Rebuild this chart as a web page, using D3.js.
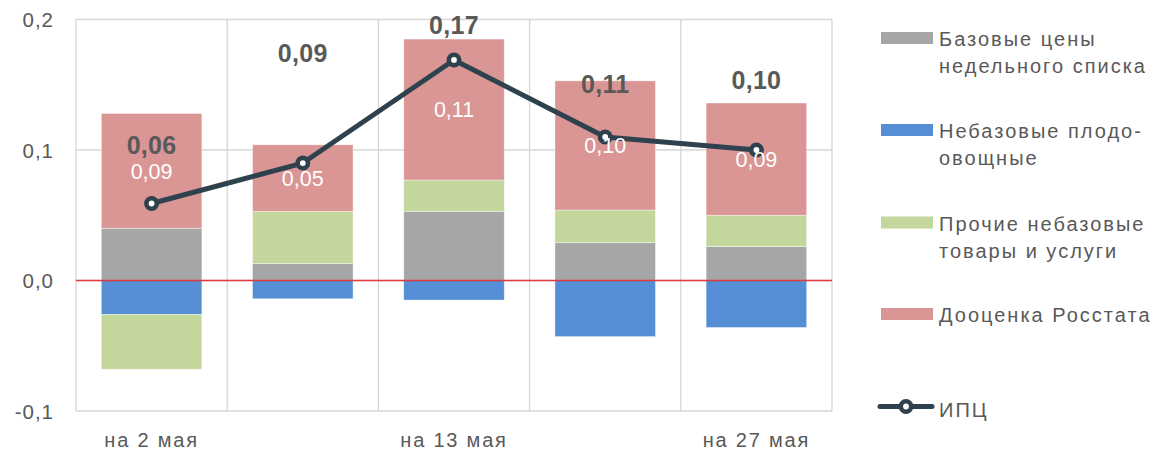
<!DOCTYPE html>
<html>
<head>
<meta charset="utf-8">
<script src="https://cdn.jsdelivr.net/npm/d3@7/dist/d3.min.js"></script>
<style>
  html, body { margin: 0; padding: 0; background: #fff; }
  svg { display: block; }
  text { font-family: "Liberation Sans", Arial, sans-serif; }
</style>
</head>
<body>
<svg id="chart" width="1155" height="451"></svg>
<script>
// ---- data ----
const categories = ["на 2 мая", "на 6 мая", "на 13 мая", "на 20 мая", "на 27 мая"];
const baseValues  = [0.040, 0.013, 0.053, 0.029, 0.026];   // Базовые цены недельного списка
const fruitValues = [-0.026, -0.014, -0.015, -0.043, -0.036]; // Небазовые плодоовощные
const otherValues = [-0.042, 0.040, 0.024, 0.025, 0.024];  // Прочие небазовые товары и услуги
const rosstatValues = [0.088, 0.051, 0.108, 0.099, 0.086]; // Дооценка Росстата
const cpiValues   = [0.059, 0.090, 0.169, 0.110, 0.100];   // ИПЦ
const yTicks = [-0.1, 0.0, 0.1, 0.2];
const seriesNames = ["Базовые цены\nнедельного списка", "Небазовые плодо-\nовощные",
                     "Прочие небазовые\nтовары и услуги", "Дооценка Росстата"];
const cpiName = "ИПЦ";

// ---- layout / style ----
const colors = ["#a6a6a6", "#558ed5", "#c3d69b", "#d99694"];
const lineColor = "#2e414d";
const textColor = "#595959";
const gridColor = "#d6d6d6";
const cpiLabelAt = [0.1036, 0.174, 0.196, 0.1504, 0.1535]; // label placement (value units)

const svg = d3.select("#chart");
const x = d3.scaleBand().domain(categories).range([76, 832]).paddingInner(0.335).paddingOuter(0.1675);
const y = d3.scaleLinear().domain([-0.1, 0.2]).range([411, 19.5]);
const fmt = v => d3.format(".2f")(v).replace(".", ",");
const fmt1 = v => d3.format(".1f")(v).replace(".", ",").replace("−", "-");

// gridlines horizontal
svg.append("g").selectAll("line").data(yTicks).join("line")
  .attr("x1", x.range()[0]).attr("x2", x.range()[1])
  .attr("y1", d => y(d)).attr("y2", d => y(d))
  .attr("stroke", gridColor).attr("stroke-width", 1.3);
// vertical category separators
const step = x.step();
const bounds = d3.range(categories.length + 1).map(i => x.range()[0] + i * step);
svg.append("g").selectAll("line").data(bounds).join("line")
  .attr("x1", d => d).attr("x2", d => d)
  .attr("y1", y(0.2)).attr("y2", y(-0.1))
  .attr("stroke", gridColor).attr("stroke-width", 1.3);

// y axis labels
const yAxis = d3.axisLeft(y).tickValues(yTicks).tickFormat(fmt1).tickSize(0).tickPadding(0);
const ya = svg.append("g").attr("transform", "translate(54,0)").call(yAxis);
ya.select(".domain").remove();
ya.selectAll("text").attr("fill", textColor).style("font-size", "20.5px")
  .style("letter-spacing", "1px").attr("dy", "0.35em");

// x axis labels
const xAxis = d3.axisBottom(x).tickSize(0).tickPadding(0)
  .tickFormat((d, i) => i % 2 === 0 ? d : "");
const xa = svg.append("g").attr("transform", "translate(0,432)").call(xAxis);
xa.select(".domain").remove();
xa.selectAll("text").attr("fill", textColor).style("font-size", "20px")
  .style("letter-spacing", "1.8px").attr("dy", "0.75em");

// stacked bars
const keys = ["base", "fruit", "other", "rosstat"];
const table = categories.map((c, i) => ({
  cat: c, base: baseValues[i], fruit: fruitValues[i], other: otherValues[i], rosstat: rosstatValues[i]
}));
const stacked = d3.stack().keys(keys).offset(d3.stackOffsetDiverging)(table);
svg.append("g").selectAll("g").data(stacked).join("g")
  .attr("fill", (d, i) => colors[i])
  .selectAll("rect").data(d => d).join("rect")
  .attr("x", d => x(d.data.cat))
  .attr("width", x.bandwidth())
  .attr("y", d => y(Math.max(d[0], d[1])))
  .attr("height", d => Math.abs(y(d[0]) - y(d[1])))
  .attr("stroke", "rgba(255,255,255,0.5)").attr("stroke-width", 0.8);

// zero line
svg.append("line")
  .attr("x1", x.range()[0]).attr("x2", x.range()[1])
  .attr("y1", y(0)).attr("y2", y(0))
  .attr("stroke", "#dd3b3f").attr("stroke-width", 1.5);

// CPI line
const cx = d => x(d) + x.bandwidth() / 2;
const line = d3.line().x((d, i) => cx(categories[i])).y(d => y(d));
svg.append("path").datum(cpiValues).attr("d", line)
  .attr("fill", "none").attr("stroke", lineColor).attr("stroke-width", 5)
  .attr("stroke-linejoin", "round");
svg.append("g").selectAll("circle").data(cpiValues).join("circle")
  .attr("cx", (d, i) => cx(categories[i])).attr("cy", d => y(d))
  .attr("r", 5.2).attr("fill", "#fff").attr("stroke", lineColor).attr("stroke-width", 4.6);

// Rosstat segment labels (white, centred in segment)
const rosSeries = stacked[3];
svg.append("g").selectAll("text").data(rosSeries).join("text")
  .attr("x", d => cx(d.data.cat))
  .attr("y", d => y((d[0] + d[1]) / 2))
  .attr("dy", "0.36em")
  .attr("text-anchor", "middle").attr("fill", "#fff")
  .style("font-size", "21.5px")
  .text(d => fmt(d.data.rosstat));

// CPI labels (bold)
svg.append("g").selectAll("text").data(cpiValues).join("text")
  .attr("x", (d, i) => cx(categories[i]))
  .attr("y", (d, i) => y(cpiLabelAt[i]))
  .attr("dy", "0.36em")
  .attr("text-anchor", "middle").attr("fill", textColor)
  .style("font-size", "25px").style("font-weight", "bold").style("letter-spacing", "0.3px")
  .text(d => fmt(d));

// legend
const lg = svg.append("g");
const legendY = [38, 130, 222.5, 314];
seriesNames.forEach((name, i) => {
  lg.append("rect").attr("x", 881).attr("y", legendY[i] - 6).attr("width", 52).attr("height", 12)
    .attr("fill", colors[i]);
  const t = lg.append("text").attr("x", 939).attr("y", legendY[i] + 8)
    .attr("fill", textColor).style("font-size", "20px").style("letter-spacing", "2px");
  name.split("\n").forEach((ln, j) => {
    t.append("tspan").attr("x", 939).attr("dy", j === 0 ? 0 : 27).text(ln);
  });
});
const ly = 406.5;
lg.append("line").attr("x1", 880).attr("x2", 932).attr("y1", ly).attr("y2", ly)
  .attr("stroke", lineColor).attr("stroke-width", 5).attr("stroke-linecap", "round");
lg.append("circle").attr("cx", 906).attr("cy", ly).attr("r", 5.2)
  .attr("fill", "#fff").attr("stroke", lineColor).attr("stroke-width", 4.6);
lg.append("text").attr("x", 939).attr("y", ly + 10).attr("fill", textColor)
  .style("font-size", "20px").style("letter-spacing", "2px").text(cpiName);
</script>
</body>
</html>
